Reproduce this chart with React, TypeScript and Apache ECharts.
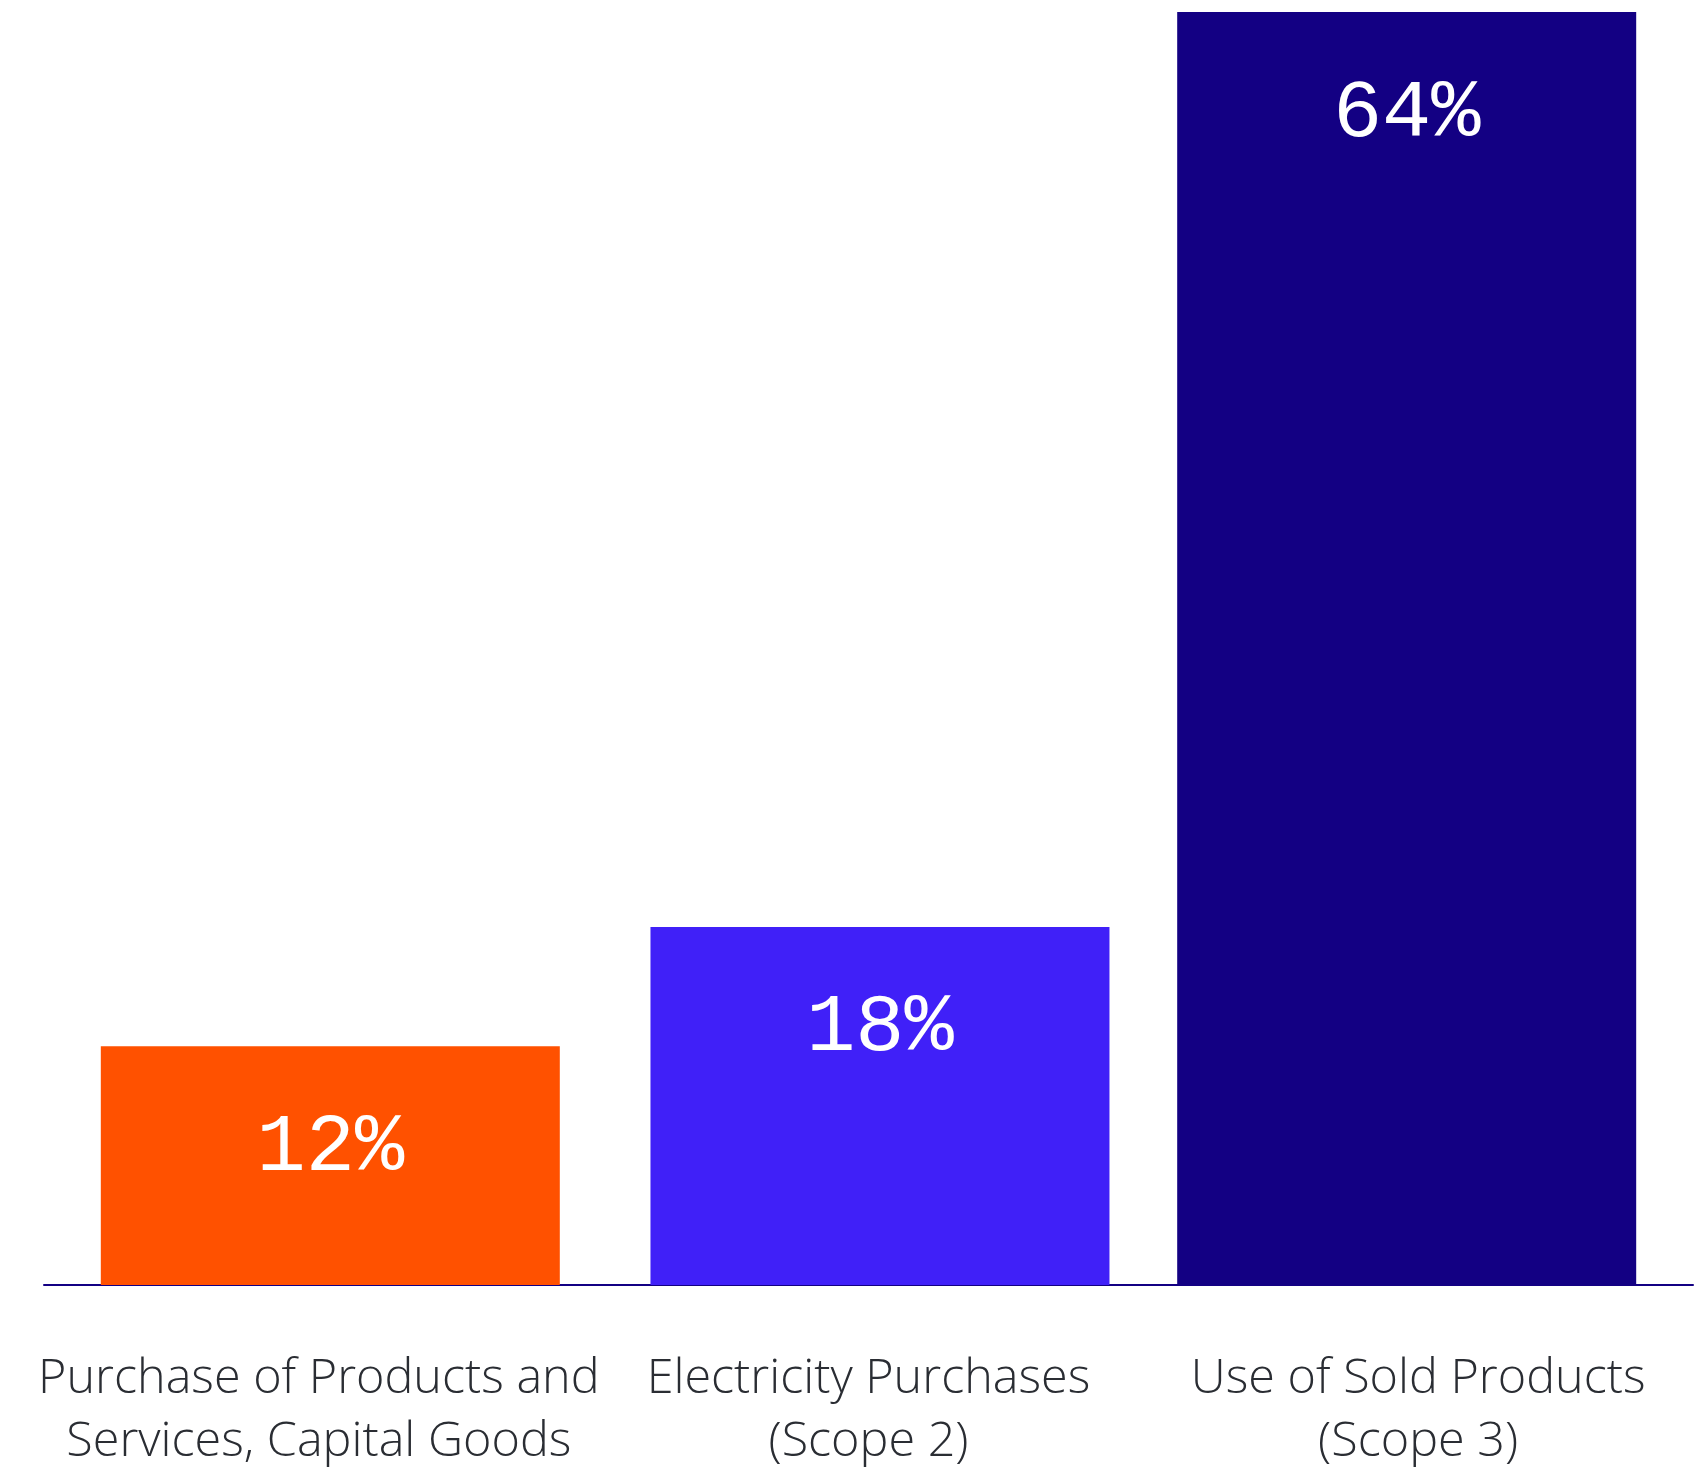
import React, { useEffect, useRef } from "react";
import * as echarts from "echarts";

const categories = [
  "Purchase of Products and\nServices, Capital Goods",
  "Electricity Purchases\n(Scope 2)",
  "Use of Sold Products\n(Scope 3)",
];
const values = [12, 18, 64];
const barColors = ["#FF5100", "#4020F8", "#130083"];
// the third bar sits slightly left of its slot, the first two slightly right
const leftGroup = [false, false, true];

export default function App() {
  const ref = useRef<HTMLDivElement>(null);
  useEffect(() => {
    if (!ref.current) return;
    const chart = echarts.init(ref.current, null, { renderer: "svg" });
    const item = (i: number) => ({ value: values[i], itemStyle: { color: barColors[i] } });
    const label = {
      show: true,
      position: "insideTop",
      distance: 61,
      color: "#ffffff",
      fontFamily: "Liberation Mono",
      fontSize: 82,
      lineHeight: 82,
      formatter: (p: any) => `${p.value}%`,
    };
    chart.setOption({
      animation: false,
      backgroundColor: "#ffffff",
      grid: { left: 44, right: 3, top: 12, bottom: 185, containLabel: false },
      xAxis: {
        type: "category",
        data: categories,
        axisLine: { show: true, lineStyle: { color: "#130083", width: 2 } },
        axisTick: { show: false },
        axisLabel: {
          color: "#2a2d33",
          fontFamily: "Open Sans",
          fontWeight: 300,
          fontSize: 48.5,
          lineHeight: 63,
          margin: 57,
          interval: 0,
        },
      },
      yAxis: {
        type: "value",
        min: 0,
        max: 64,
        show: false,
        splitLine: { show: false },
      },
      series: [
        {
          type: "bar",
          barWidth: 459,
          barGap: "-95%",
          data: values.map((_, i) => (leftGroup[i] ? item(i) : "-")),
          label,
        },
        {
          type: "bar",
          barWidth: 459,
          barGap: "-95%",
          data: values.map((_, i) => (!leftGroup[i] ? item(i) : "-")),
          label,
        },
      ],
    });
    return () => chart.dispose();
  }, []);
  return (
    <div
      ref={ref}
      style={{ position: "fixed", left: 0, top: 0, width: 1696, height: 1470, background: "#fff" }}
    />
  );
}
